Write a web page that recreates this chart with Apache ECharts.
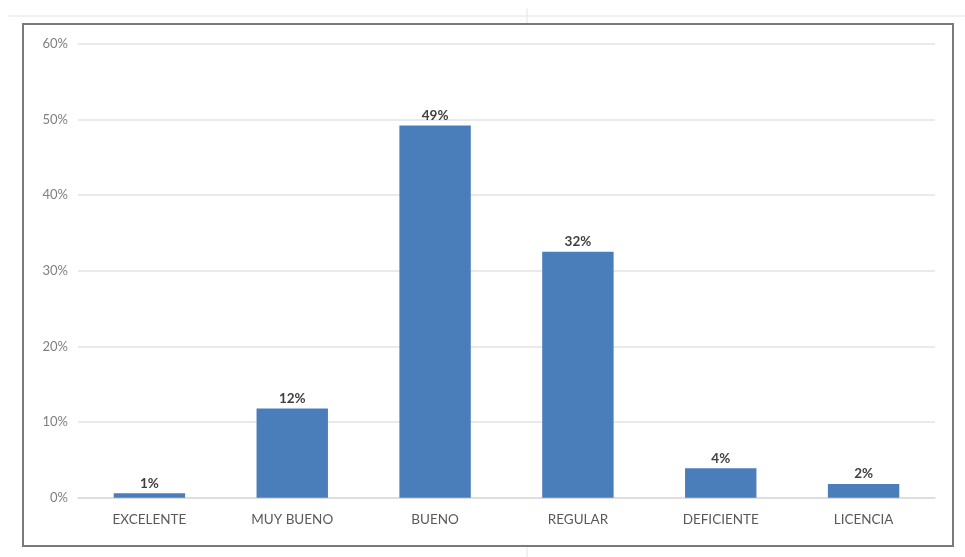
<!DOCTYPE html>
<html>
<head>
<meta charset="utf-8">
<script src="https://cdn.jsdelivr.net/npm/echarts@6/dist/echarts.min.js"></script>
<style>
html,body{margin:0;padding:0;background:#fff;}
#c{width:965px;height:557px;}
</style>
</head>
<body>
<div id="c"></div>
<script>
var categories = ['EXCELENTE', 'MUY BUENO', 'BUENO', 'REGULAR', 'DEFICIENTE', 'LICENCIA'];
var values = [0.6, 11.8, 49.2, 32.5, 3.9, 1.8];
var labels = ['1%', '12%', '49%', '32%', '4%', '2%'];
var yTicks = [0, 10, 20, 30, 40, 50, 60];

var chart = echarts.init(document.getElementById('c'));
chart.setOption({
  backgroundColor: '#ffffff',
  animation: false,
  graphic: [
    {type: 'line', shape: {x1: 8, y1: 16, x2: 965, y2: 16}, style: {stroke: '#e4e4e4', lineWidth: 1}, silent: true},
    {type: 'line', shape: {x1: 527, y1: 8, x2: 527, y2: 24}, style: {stroke: '#e4e4e4', lineWidth: 1}, silent: true},
    {type: 'line', shape: {x1: 527, y1: 546, x2: 527, y2: 557}, style: {stroke: '#e4e4e4', lineWidth: 1}, silent: true},
    {type: 'rect', shape: {x: 23, y: 24, width: 930, height: 522}, style: {fill: 'none', stroke: '#7a7a7a', lineWidth: 2}, silent: true}
  ],
  grid: {left: 78, right: 30, top: 43.7, bottom: 59.3, containLabel: false},
  xAxis: {
    type: 'category',
    data: categories,
    axisLine: {show: true, lineStyle: {color: '#dadada', width: 1.5}},
    axisTick: {show: false},
    axisLabel: {color: '#595959', fontFamily: 'Lato, "Open Sans", sans-serif', fontSize: 13.5, margin: 15}
  },
  yAxis: {
    type: 'value',
    min: 0,
    max: 60,
    interval: 10,
    axisLine: {show: false},
    axisTick: {show: false},
    splitLine: {lineStyle: {color: '#e3e3e3', width: 1.5}},
    axisLabel: {
      color: '#7f7f7f',
      fontFamily: 'Lato, "Open Sans", sans-serif',
      fontSize: 13,
      margin: 10,
      formatter: function (v) { return yTicks.indexOf(v) >= 0 ? v + '%' : ''; }
    }
  },
  series: [{
    type: 'bar',
    data: values,
    barWidth: '50%',
    itemStyle: {color: '#4a7ebb'},
    label: {
      show: true,
      position: 'top',
      distance: 3,
      color: '#404040',
      fontFamily: 'Lato, "Open Sans", sans-serif',
      fontSize: 13.5,
      fontWeight: 'bold',
      formatter: function (p) { return labels[p.dataIndex]; }
    }
  }]
});
</script>
</body>
</html>
